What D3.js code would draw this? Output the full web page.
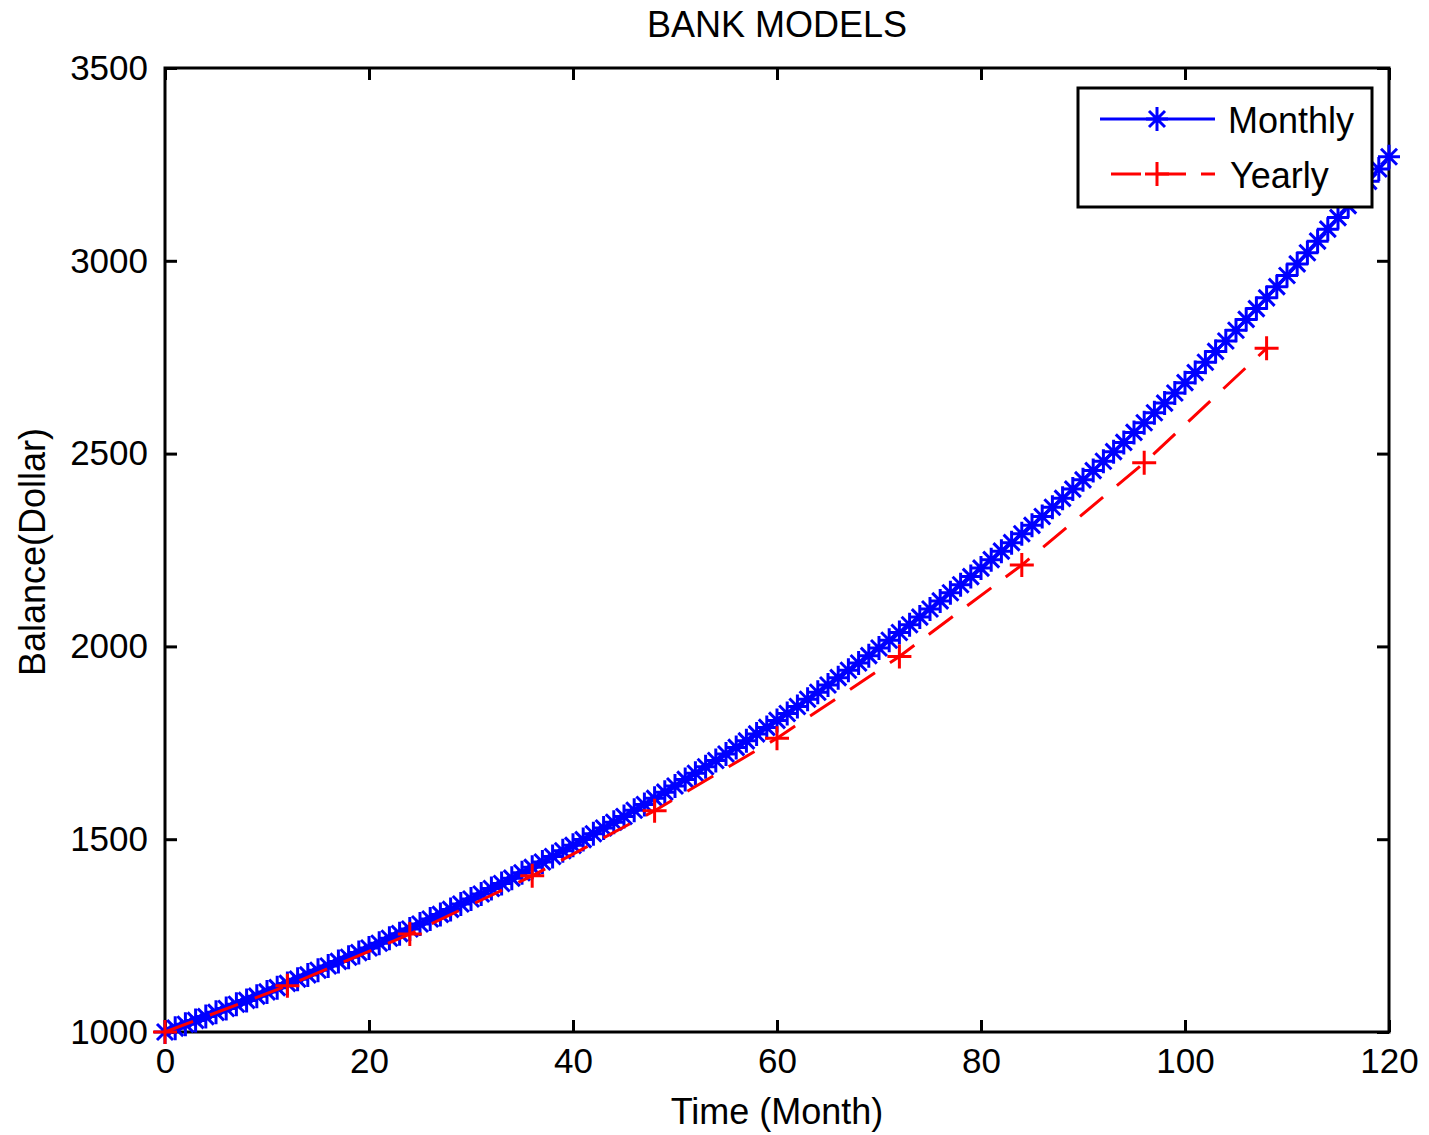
<!DOCTYPE html>
<html>
<head>
<meta charset="utf-8">
<script src="https://cdn.jsdelivr.net/npm/d3@7"></script>
<style>
  body { margin: 0; background: #fff; }
  text { font-family: "Liberation Sans", Arial, sans-serif; fill: #000; }
</style>
</head>
<body>
<div id="chart"></div>
<script>
const width = 1429;
const height = 1135;
const margin = { top: 68, right: 40, bottom: 103, left: 165 };

// data
const monthlyBalance = [
  1000, 1010, 1020, 1030, 1040, 1051, 1061, 1072, 1082, 1093,
  1104, 1115, 1126, 1137, 1148, 1160, 1171, 1183, 1194, 1206,
  1218, 1230, 1243, 1255, 1267, 1280, 1293, 1305, 1318, 1332,
  1345, 1358, 1372, 1385, 1399, 1413, 1427, 1441, 1455, 1470,
  1484, 1499, 1514, 1529, 1544, 1559, 1575, 1590, 1606, 1622,
  1638, 1655, 1671, 1688, 1704, 1721, 1738, 1755, 1773, 1790,
  1808, 1826, 1844, 1863, 1881, 1900, 1919, 1938, 1957, 1976,
  1996, 2016, 2036, 2056, 2076, 2097, 2118, 2139, 2160, 2181,
  2203, 2225, 2247, 2269, 2292, 2314, 2337, 2361, 2384, 2408,
  2432, 2456, 2480, 2505, 2529, 2555, 2580, 2606, 2631, 2657,
  2684, 2710, 2737, 2765, 2792, 2820, 2848, 2876, 2904, 2933,
  2962, 2992, 3021, 3051, 3082, 3112, 3143, 3174, 3206, 3238,
  3270
];
const yearlyMonths = [0, 12, 24, 36, 48, 60, 72, 84, 96, 108];
const yearlyBalance = [1000, 1120, 1254, 1405, 1574, 1762, 1974, 2211, 2476, 2773];
const xTicks = [0, 20, 40, 60, 80, 100, 120];
const yTicks = [1000, 1500, 2000, 2500, 3000, 3500];

const monthly = monthlyBalance.map((v, i) => ({ x: i, y: v }));
const yearly = yearlyMonths.map((m, i) => ({ x: m, y: yearlyBalance[i] }));

const svg = d3.select("#chart")
  .append("svg")
  .attr("width", width)
  .attr("height", height);

const x = d3.scaleLinear().domain([0, 120]).range([margin.left, width - margin.right]);
const y = d3.scaleLinear().domain([1000, 3500]).range([height - margin.bottom, margin.top]);

const plotW = x.range()[1] - x.range()[0];
const plotH = y.range()[0] - y.range()[1];
const fmt = d3.format("d");

// axes with inward ticks on all four sides
const tickLen = 12;
svg.append("g")
  .attr("transform", `translate(0,${y(1000)})`)
  .call(d3.axisBottom(x).tickValues(xTicks).tickFormat(fmt).tickSizeInner(-tickLen).tickSizeOuter(0).tickPadding(16))
  .call(g => g.select(".domain").remove())
  .call(g => g.selectAll("text").attr("font-size", 35).attr("font-family", "Liberation Sans, Arial, sans-serif"));

svg.append("g")
  .attr("transform", `translate(0,${y(3500)})`)
  .call(d3.axisTop(x).tickValues(xTicks).tickSizeInner(-tickLen).tickSizeOuter(0).tickFormat(""))
  .call(g => g.select(".domain").remove());

svg.append("g")
  .attr("transform", `translate(${x(0)},0)`)
  .call(d3.axisLeft(y).tickValues(yTicks).tickFormat(fmt).tickSizeInner(-tickLen).tickSizeOuter(0).tickPadding(17))
  .call(g => g.select(".domain").remove())
  .call(g => g.selectAll("text").attr("font-size", 35).attr("font-family", "Liberation Sans, Arial, sans-serif"));

svg.append("g")
  .attr("transform", `translate(${x(120)},0)`)
  .call(d3.axisRight(y).tickValues(yTicks).tickSizeInner(-tickLen).tickSizeOuter(0).tickFormat(""))
  .call(g => g.select(".domain").remove());

svg.selectAll(".tick line").attr("stroke", "#000").attr("stroke-width", 3);

// box
svg.append("rect")
  .attr("x", x(0))
  .attr("y", y(3500))
  .attr("width", plotW)
  .attr("height", plotH)
  .attr("fill", "none")
  .attr("stroke", "#000")
  .attr("stroke-width", 3);

const line = d3.line().x(d => x(d.x)).y(d => y(d.y));

// star marker (plus + x)
const starPath = "M0,-12L0,12M-11,0L11,0M-8,-8L8,8M-8,8L8,-8";
const plusPath = "M0,-12L0,12M-12,0L12,0";

const plot = svg.append("g");

plot.append("path")
  .datum(monthly)
  .attr("d", line)
  .attr("fill", "none")
  .attr("stroke", "#0000ff")
  .attr("stroke-width", 3);

plot.append("g")
  .selectAll("path")
  .data(monthly)
  .enter().append("path")
  .attr("transform", d => `translate(${x(d.x)},${y(d.y)})`)
  .attr("d", starPath)
  .attr("stroke", "#0000ff")
  .attr("stroke-width", 3);

plot.append("path")
  .datum(yearly)
  .attr("d", line)
  .attr("fill", "none")
  .attr("stroke", "#ff0000")
  .attr("stroke-width", 3)
  .attr("stroke-dasharray", "30,18");

plot.append("g")
  .selectAll("path")
  .data(yearly)
  .enter().append("path")
  .attr("transform", d => `translate(${x(d.x)},${y(d.y)})`)
  .attr("d", plusPath)
  .attr("stroke", "#ff0000")
  .attr("stroke-width", 3);

// title and labels
svg.append("text")
  .attr("x", (x(0) + x(120)) / 2)
  .attr("y", 37)
  .attr("text-anchor", "middle")
  .attr("font-size", 36)
  .text("BANK MODELS");

svg.append("text")
  .attr("x", (x(0) + x(120)) / 2)
  .attr("y", 1124)
  .attr("text-anchor", "middle")
  .attr("font-size", 36)
  .text("Time (Month)");

svg.append("text")
  .attr("transform", `translate(45,${(y(1000) + y(3500)) / 2 + 2}) rotate(-90)`)
  .attr("text-anchor", "middle")
  .attr("font-size", 36)
  .text("Balance(Dollar)");

// legend
const legend = svg.append("g").attr("transform", "translate(1078,88)");
legend.append("rect")
  .attr("width", 294)
  .attr("height", 119)
  .attr("fill", "#fff")
  .attr("stroke", "#000")
  .attr("stroke-width", 3);

legend.append("line")
  .attr("x1", 22).attr("x2", 137).attr("y1", 31).attr("y2", 31)
  .attr("stroke", "#0000ff").attr("stroke-width", 3);
legend.append("path")
  .attr("transform", "translate(79,31)")
  .attr("d", starPath)
  .attr("stroke", "#0000ff").attr("stroke-width", 3);
legend.append("text")
  .attr("x", 150).attr("y", 45)
  .attr("font-size", 36)
  .text("Monthly");

legend.append("line")
  .attr("x1", 33).attr("x2", 137).attr("y1", 86).attr("y2", 86)
  .attr("stroke", "#ff0000").attr("stroke-width", 3)
  .attr("stroke-dasharray", "30,15");
legend.append("path")
  .attr("transform", "translate(79,86)")
  .attr("d", plusPath)
  .attr("stroke", "#ff0000").attr("stroke-width", 3);
legend.append("text")
  .attr("x", 152).attr("y", 100)
  .attr("font-size", 36)
  .text("Yearly");
</script>
</body>
</html>
